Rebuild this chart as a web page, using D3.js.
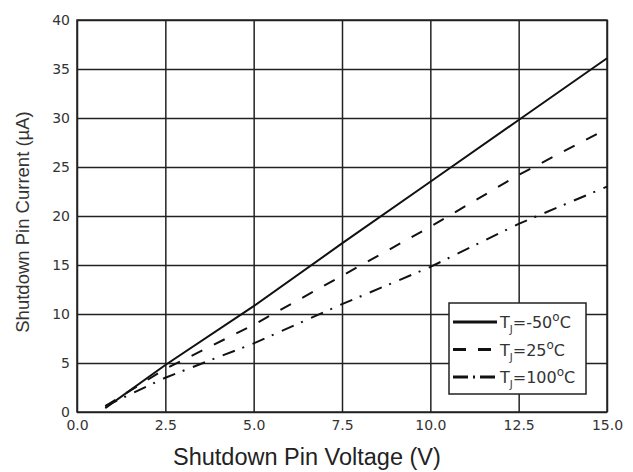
<!DOCTYPE html>
<html>
<head>
<meta charset="utf-8">
<script src="https://cdn.jsdelivr.net/npm/d3@7"></script>
<style>
  body { margin: 0; background: #fff; }
  svg { display: block; font-family: "Liberation Sans", Arial, sans-serif; }
</style>
</head>
<body>
<div id="wrapper"></div>
<script>
const voltage = [0.8, 2.5, 5, 7.5, 10, 12.5, 15];
const currentMinus50 = [0.4, 4.8, 10.8, 17.2, 23.5, 29.8, 36.1];
const current25 = [0.6, 4.4, 8.9, 13.9, 18.9, 24.2, 28.9];
const current100 = [0.6, 3.5, 7.0, 11.0, 14.8, 19.2, 23.0];

const xTicks = [0, 2.5, 5, 7.5, 10, 12.5, 15];
const yTicks = [0, 5, 10, 15, 20, 25, 30, 35, 40];

const seriesNames = ["-50", "25", "100"];
const seriesValues = [currentMinus50, current25, current100];
const seriesDash = [null, "12,13", "13,8,2,9"];
const legendDash = [null, "13,12", "15,5,2,5"];

let dimensions = {
  width: 633, height: 472,
  margin: { top: 20, right: 26, bottom: 60, left: 77 },
};
dimensions.boundedWidth = dimensions.width - dimensions.margin.left - dimensions.margin.right;
dimensions.boundedHeight = dimensions.height - dimensions.margin.top - dimensions.margin.bottom;

const wrapper = d3.select("#wrapper").append("svg")
  .attr("width", dimensions.width)
  .attr("height", dimensions.height);

const bounds = wrapper.append("g")
  .attr("transform", `translate(${dimensions.margin.left},${dimensions.margin.top})`);

const xScale = d3.scaleLinear().domain([0, 15]).range([0, dimensions.boundedWidth]);
const yScale = d3.scaleLinear().domain([0, 40]).range([dimensions.boundedHeight, 0]);

// grid + ticks via axes
const xAxis = bounds.append("g")
  .attr("transform", `translate(0,${dimensions.boundedHeight})`)
  .call(d3.axisBottom(xScale).tickValues(xTicks)
    .tickSize(-dimensions.boundedHeight).tickPadding(8)
    .tickFormat(d3.format(".1f")));

const yAxis = bounds.append("g")
  .call(d3.axisLeft(yScale).tickValues(yTicks)
    .tickSize(-dimensions.boundedWidth).tickPadding(7)
    .tickFormat(d3.format("d")));

[xAxis, yAxis].forEach(ax => {
  ax.select(".domain").remove();
  ax.selectAll(".tick line").attr("stroke", "#222").attr("stroke-width", 1.5);
  ax.selectAll(".tick text")
    .attr("fill", "#333")
    .style("font-family", "'DejaVu Sans', sans-serif")
    .style("font-size", "14px");
});

bounds.append("rect")
  .attr("width", dimensions.boundedWidth)
  .attr("height", dimensions.boundedHeight)
  .attr("fill", "none")
  .attr("stroke", "#222")
  .attr("stroke-width", 1.5);

const lineGenerator = d3.line()
  .x((d, i) => xScale(voltage[i]))
  .y(d => yScale(d));

seriesValues.forEach((vals, i) => {
  bounds.append("path")
    .attr("d", lineGenerator(vals))
    .attr("fill", "none")
    .attr("stroke", "#111")
    .attr("stroke-width", 2)
    .attr("stroke-dasharray", seriesDash[i]);
});

// legend
const legend = wrapper.append("g").attr("transform", "translate(449,303)");
legend.append("rect")
  .attr("width", 137).attr("height", 91)
  .attr("fill", "#fff").attr("stroke", "#222").attr("stroke-width", 1.5);

seriesNames.forEach((name, i) => {
  const y = 19 + i * 27.5;
  legend.append("line")
    .attr("x1", 4).attr("x2", 48).attr("y1", y).attr("y2", y)
    .attr("stroke", "#111").attr("stroke-width", 3)
    .attr("stroke-dasharray", legendDash[i]);
  const t = legend.append("text")
    .attr("x", 51).attr("y", y + 6)
    .attr("fill", "#333")
    .style("font-family", "'DejaVu Sans', sans-serif")
    .style("font-size", "16px");
  t.append("tspan").text("T");
  t.append("tspan").attr("dy", 5).style("font-size", "10px").text("J");
  t.append("tspan").attr("dy", -5).text(`=${name}`);
  t.append("tspan").attr("dy", -7).style("font-size", "12px").text("o");
  t.append("tspan").attr("dy", 7).text("C");
});

// axis titles
wrapper.append("text")
  .attr("x", 173).attr("y", 465)
  .attr("fill", "#222").style("font-size", "23.5px")
  .text("Shutdown Pin Voltage (V)");

wrapper.append("text")
  .attr("transform", "translate(29,222) rotate(-90)")
  .attr("text-anchor", "middle")
  .attr("fill", "#333").style("font-size", "18.5px")
  .text("Shutdown Pin Current (µA)");
</script>
</body>
</html>
